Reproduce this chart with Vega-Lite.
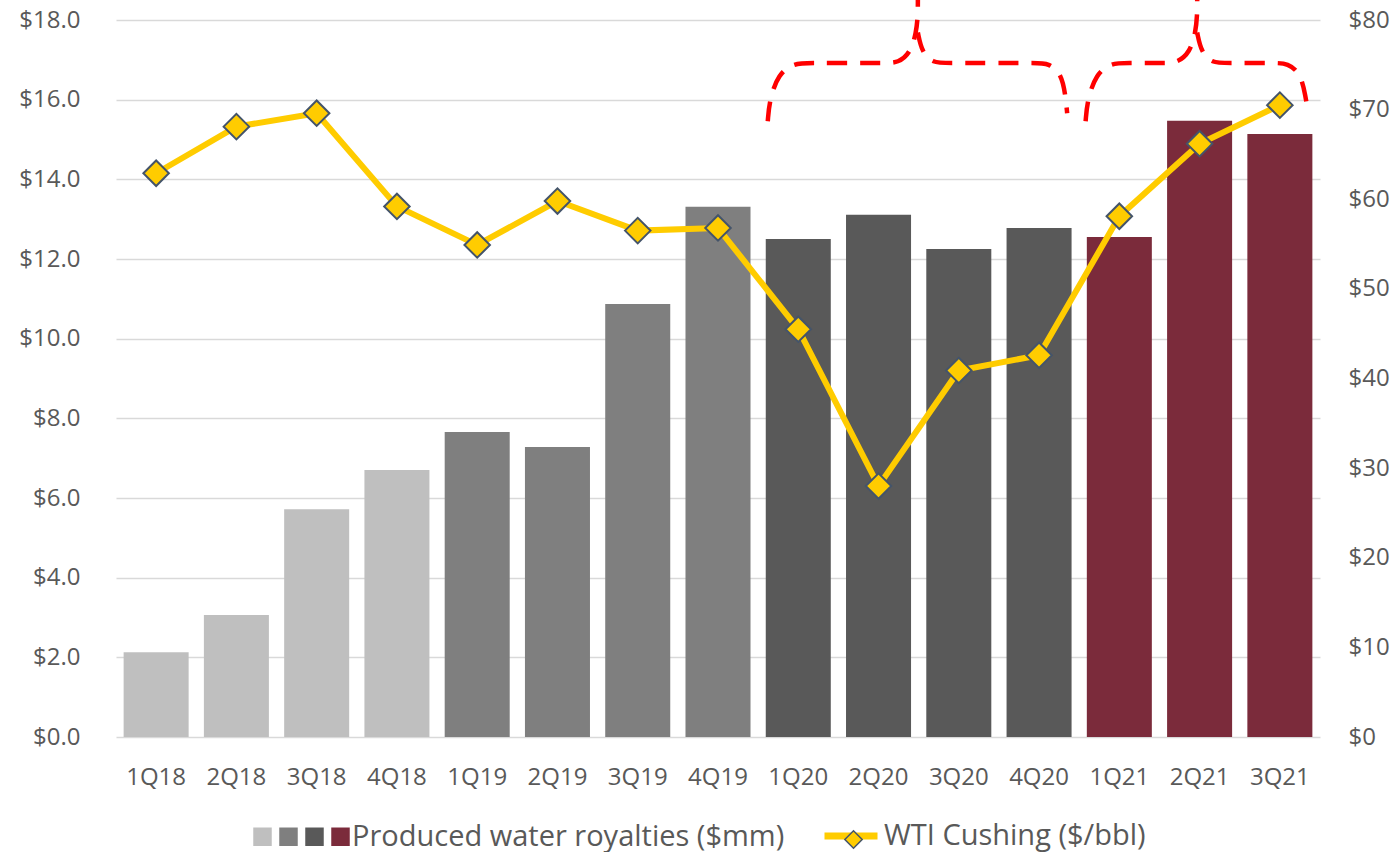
{
  "$schema": "https://vega.github.io/schema/vega-lite/v6.json",
  "width": 1204,
  "height": 717,
  "autosize": {"type": "none"},
  "padding": {"left": 116, "top": 20, "right": 79, "bottom": 115},
  "background": "white",
  "config": {
    "view": {"stroke": null},
    "font": "Open Sans",
    "axis": {
      "labelFont": "Open Sans",
      "labelFontSize": 24,
      "labelColor": "#595959",
      "domain": false,
      "ticks": false,
      "title": null,
      "gridColor": "#D9D9D9",
      "gridWidth": 1.5
    },
    "legend": {
      "labelFont": "Open Sans",
      "labelFontSize": 29,
      "labelColor": "#595959",
      "labelLimit": 800,
      "padding": 0,
      "title": null
    }
  },
  "datasets": {
    "main": [
      {"quarter": "1Q18", "year": "2018", "royalties": 2.13, "wti": 62.9},
      {"quarter": "2Q18", "year": "2018", "royalties": 3.06, "wti": 68.1},
      {"quarter": "3Q18", "year": "2018", "royalties": 5.72, "wti": 69.6},
      {"quarter": "4Q18", "year": "2018", "royalties": 6.70, "wti": 59.2},
      {"quarter": "1Q19", "year": "2019", "royalties": 7.66, "wti": 54.9},
      {"quarter": "2Q19", "year": "2019", "royalties": 7.28, "wti": 59.8},
      {"quarter": "3Q19", "year": "2019", "royalties": 10.87, "wti": 56.5},
      {"quarter": "4Q19", "year": "2019", "royalties": 13.31, "wti": 56.8},
      {"quarter": "1Q20", "year": "2020", "royalties": 12.50, "wti": 45.5},
      {"quarter": "2Q20", "year": "2020", "royalties": 13.11, "wti": 28.0},
      {"quarter": "3Q20", "year": "2020", "royalties": 12.25, "wti": 40.9},
      {"quarter": "4Q20", "year": "2020", "royalties": 12.78, "wti": 42.6},
      {"quarter": "1Q21", "year": "2021", "royalties": 12.55, "wti": 58.1},
      {"quarter": "2Q21", "year": "2021", "royalties": 15.47, "wti": 66.2},
      {"quarter": "3Q21", "year": "2021", "royalties": 15.14, "wti": 70.5}
    ],
    "brace": [
      {"part": "1a", "o": 1, "u": 8.12, "v": 68.7},
      {"part": "1a", "o": 2, "u": 8.14, "v": 71.0},
      {"part": "1a", "o": 3, "u": 8.25, "v": 74.0},
      {"part": "1a", "o": 4, "u": 8.45, "v": 75.2},
      {"part": "1a", "o": 5, "u": 8.65, "v": 75.2},
      {"part": "1a", "o": 6, "u": 9.55, "v": 75.2},
      {"part": "1a", "o": 7, "u": 9.75, "v": 75.2},
      {"part": "1a", "o": 8, "u": 9.90, "v": 76.4},
      {"part": "1a", "o": 9, "u": 9.97, "v": 78.6},
      {"part": "1a", "o": 10, "u": 9.99, "v": 80.5},
      {"part": "1a", "o": 11, "u": 9.99, "v": 82.3},
      {"part": "1b", "o": 1, "u": 9.99, "v": 78.6},
      {"part": "1b", "o": 2, "u": 10.04, "v": 76.4},
      {"part": "1b", "o": 3, "u": 10.18, "v": 75.2},
      {"part": "1b", "o": 4, "u": 10.35, "v": 75.2},
      {"part": "1b", "o": 5, "u": 11.45, "v": 75.2},
      {"part": "1b", "o": 6, "u": 11.62, "v": 75.2},
      {"part": "1b", "o": 7, "u": 11.78, "v": 74.0},
      {"part": "1b", "o": 8, "u": 11.83, "v": 71.5},
      {"part": "1b", "o": 9, "u": 11.85, "v": 69.6},
      {"part": "2a", "o": 1, "u": 12.08, "v": 68.7},
      {"part": "2a", "o": 2, "u": 12.10, "v": 71.0},
      {"part": "2a", "o": 3, "u": 12.21, "v": 74.0},
      {"part": "2a", "o": 4, "u": 12.40, "v": 75.2},
      {"part": "2a", "o": 5, "u": 12.58, "v": 75.2},
      {"part": "2a", "o": 6, "u": 13.05, "v": 75.2},
      {"part": "2a", "o": 7, "u": 13.22, "v": 75.2},
      {"part": "2a", "o": 8, "u": 13.38, "v": 76.4},
      {"part": "2a", "o": 9, "u": 13.45, "v": 78.6},
      {"part": "2a", "o": 10, "u": 13.47, "v": 80.5},
      {"part": "2a", "o": 11, "u": 13.47, "v": 82.3},
      {"part": "2b", "o": 1, "u": 13.47, "v": 78.6},
      {"part": "2b", "o": 2, "u": 13.52, "v": 76.4},
      {"part": "2b", "o": 3, "u": 13.66, "v": 75.2},
      {"part": "2b", "o": 4, "u": 13.82, "v": 75.2},
      {"part": "2b", "o": 5, "u": 14.42, "v": 75.2},
      {"part": "2b", "o": 6, "u": 14.60, "v": 75.2},
      {"part": "2b", "o": 7, "u": 14.76, "v": 74.0},
      {"part": "2b", "o": 8, "u": 14.82, "v": 71.5},
      {"part": "2b", "o": 9, "u": 14.85, "v": 69.7}
    ]
  },
  "layer": [
    {
      "data": {"name": "main"},
      "mark": {"type": "bar"},
      "encoding": {
        "x": {
          "field": "quarter", "type": "nominal", "sort": null,
          "scale": {"paddingInner": 0.19, "paddingOuter": 0.095},
          "axis": {"labelAngle": 0, "labelPadding": 28, "grid": false}
        },
        "y": {
          "field": "royalties", "type": "quantitative",
          "scale": {"domain": [0, 18], "nice": false},
          "axis": {"orient": "left", "values": [0, 2, 4, 6, 8, 10, 12, 14, 16, 18], "format": "$.1f", "labelPadding": 36, "grid": true}
        },
        "color": {
          "field": "year", "type": "nominal",
          "scale": {"domain": ["2018", "2019", "2020", "2021"], "range": ["#BFBFBF", "#7F7F7F", "#595959", "#7B2B3B"]},
          "legend": {
            "orient": "none", "legendX": 132, "legendY": 802,
            "direction": "horizontal",
            "symbolType": "square", "symbolSize": 342, "symbolStrokeWidth": 0,
            "symbolOpacity": 1,
            "labelOffset": -3, "columnPadding": 0,
            "labelExpr": "datum.value == '2021' ? 'Produced water royalties ($mm)' : ''"
          }
        }
      }
    },
    {
      "data": {"name": "main"},
      "encoding": {
        "x": {
          "field": "quarter", "type": "nominal", "sort": null,
          "scale": {"paddingInner": 0.19, "paddingOuter": 0.095},
          "axis": null
        },
        "y": {
          "field": "wti", "type": "quantitative",
          "scale": {"domain": [0, 80], "nice": false},
          "axis": {"orient": "right", "values": [0, 10, 20, 30, 40, 50, 60, 70, 80], "format": "$.0f", "labelPadding": 28, "grid": false}
        }
      },
      "layer": [
        {
          "mark": {"type": "line", "strokeWidth": 6},
          "encoding": {
            "stroke": {
              "datum": "WTI Cushing ($/bbl)",
              "scale": {"range": ["#FFCC00"]},
              "legend": {
                "orient": "none", "legendX": 705, "legendY": 786,
                "symbolType": "stroke", "symbolSize": 2809,
                "labelOffset": 3,
                "encode": {"symbols": {"update": {"strokeWidth": {"value": 7}, "stroke": {"value": "#FFCC00"}}}}
              }
            }
          }
        },
        {
          "mark": {"type": "point", "filled": true, "fill": "#FFCC00", "stroke": "#44546A", "strokeWidth": 2, "size": 650, "opacity": 1},
          "encoding": {
            "shape": {
              "datum": "WTI marker",
              "scale": {"range": ["diamond"]},
              "legend": {
                "orient": "none", "legendX": 723, "legendY": 805,
                "symbolSize": 300,
                "labelExpr": "''", "labelOffset": 0,
                "encode": {"symbols": {"update": {"fill": {"value": "#FFCC00"}, "stroke": {"value": "#44546A"}, "strokeWidth": {"value": 1.5}, "opacity": {"value": 1}}}}
              }
            }
          }
        }
      ]
    },
    {
      "data": {"name": "brace"},
      "mark": {"type": "line", "stroke": "#FF0000", "strokeWidth": 4.5, "strokeDash": [20, 13], "interpolate": "basis"},
      "encoding": {
        "x": {"field": "u", "type": "quantitative", "scale": {"domain": [0, 15], "nice": false, "zero": false}, "axis": null},
        "y": {"field": "v", "type": "quantitative", "scale": {"domain": [0, 80], "nice": false}, "axis": null},
        "detail": {"field": "part"},
        "order": {"field": "o", "type": "quantitative"}
      }
    }
  ],
  "resolve": {
    "scale": {"x": "independent", "y": "independent"}
  }
}
